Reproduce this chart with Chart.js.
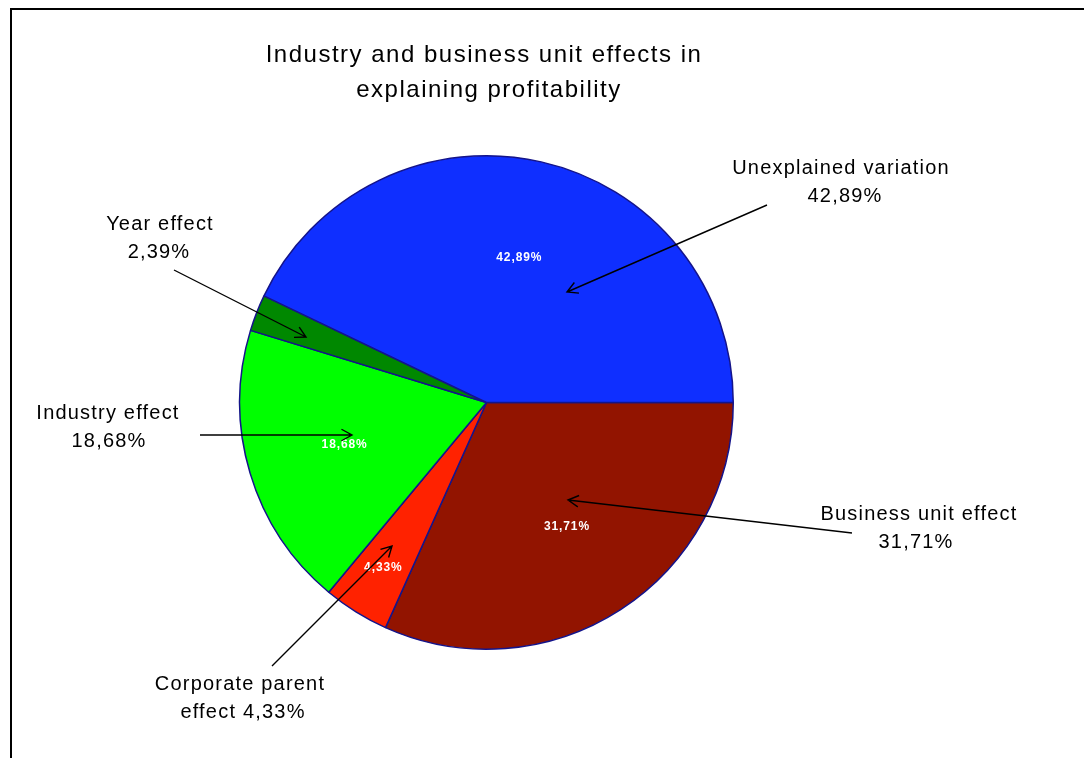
<!DOCTYPE html>
<html>
<head>
<meta charset="utf-8">
<script src="https://cdn.jsdelivr.net/npm/chart.js@4"></script>
<style>
  html, body { margin: 0; padding: 0; overflow: hidden; background: #fff; }
  .frame { position: absolute; left: 10px; top: 8px; width: 1200px; height: 900px; border: 2px solid #000; box-sizing: border-box; }
  .wrap { position: absolute; left: 0; top: 0; width: 1084px; height: 758px; }
</style>
</head>
<body>
<div class="frame"></div>
<div class="wrap"><canvas id="pieChart" width="1084" height="758"></canvas></div>
<script>
// Veriler (saat yönünde, saat 3 yönünden başlayarak)
const categories = ['Business unit effect', 'Corporate parent effect', 'Industry effect', 'Year effect', 'Unexplained variation'];
const shares = [31.71, 4.33, 18.68, 2.39, 42.89];
const sliceColors = ['#921400', '#ff2200', '#00ff00', '#008800', '#0f2fff'];
const insideLabels = ['31,71%', '4,33%', '18,68%', '', '42,89%'];
const outsideLabels = [
    ['Business unit effect', '31,71%'],
    ['Corporate parent', 'effect 4,33%'],
    ['Industry effect', '18,68%'],
    ['Year effect', '2,39%'],
    ['Unexplained variation', '42,89%']
];
const titleLines = ['Industry and business unit effects in', 'explaining profitability'];

// Etiket ve ok yerleşimi (piksel)
const callouts = [
    { tx: [919, 916], ty: 514, from: [852, 533], to: [568, 500], insideR: 0.6 },
    { tx: [240, 243], ty: 684, from: [272, 666], to: [392, 546], insideR: 0.79 },
    { tx: [108, 109], ty: 413, from: [200, 435], to: [352, 435], insideR: 0.6 },
    { tx: [160, 159], ty: 224, from: [174, 270], to: [306, 337], insideR: 0.6 },
    { tx: [841, 845], ty: 168, from: [767, 205], to: [567, 292], insideR: 0.6 }
];

function drawArrow(ctx, x1, y1, x2, y2) {
    const ang = Math.atan2(y2 - y1, x2 - x1);
    const head = 12;
    ctx.beginPath();
    ctx.moveTo(x1, y1);
    ctx.lineTo(x2, y2);
    ctx.moveTo(x2 - head * Math.cos(ang - 0.5), y2 - head * Math.sin(ang - 0.5));
    ctx.lineTo(x2, y2);
    ctx.lineTo(x2 - head * Math.cos(ang + 0.5), y2 - head * Math.sin(ang + 0.5));
    ctx.stroke();
}

const labelPlugin = {
    id: 'labelPlugin',
    afterDraw(chart) {
        const ctx = chart.ctx;
        const arcs = chart.getDatasetMeta(0).data;
        ctx.save();

        // Başlık
        ctx.fillStyle = '#000';
        ctx.textAlign = 'center';
        ctx.textBaseline = 'middle';
        ctx.font = '24px "Liberation Sans", Arial, sans-serif';
        ctx.letterSpacing = '1.5px';
        ctx.fillText(titleLines[0], 484, 55);
        ctx.fillText(titleLines[1], 489, 90);

        // Dilim içi etiketler
        ctx.fillStyle = '#fff';
        ctx.font = 'bold 12px "Liberation Sans", Arial, sans-serif';
        ctx.letterSpacing = '0.9px';
        arcs.forEach((arc, i) => {
            if (!insideLabels[i]) return;
            const p = arc.getProps(['x', 'y', 'startAngle', 'endAngle', 'outerRadius']);
            const mid = (p.startAngle + p.endAngle) / 2;
            const r = p.outerRadius * callouts[i].insideR;
            ctx.fillText(insideLabels[i], p.x + r * Math.cos(mid), p.y + r * Math.sin(mid));
        });

        // Dış etiketler ve oklar
        ctx.fillStyle = '#000';
        ctx.strokeStyle = '#000';
        ctx.lineWidth = 1.4;
        ctx.font = '20px "Liberation Sans", Arial, sans-serif';
        ctx.letterSpacing = '1.2px';
        callouts.forEach((c, i) => {
            ctx.fillText(outsideLabels[i][0], c.tx[0], c.ty);
            ctx.fillText(outsideLabels[i][1], c.tx[1], c.ty + 28);
            drawArrow(ctx, c.from[0], c.from[1], c.to[0], c.to[1]);
        });
        ctx.restore();
    }
};

const pieCtx = document.getElementById('pieChart').getContext('2d');
const pieChart = new Chart(pieCtx, {
    type: 'pie',
    data: {
        labels: categories,
        datasets: [{
            data: shares,
            backgroundColor: sliceColors,
            borderColor: '#14148a',
            borderWidth: 1.5,
            hoverOffset: 0
        }]
    },
    options: {
        responsive: false,
        animation: false,
        rotation: 90,
        layout: {
            padding: { top: 155, bottom: 108, left: 239, right: 350 }
        },
        plugins: {
            legend: { display: false },
            tooltip: { enabled: false },
            title: { display: false }
        }
    },
    plugins: [labelPlugin]
});
</script>
</body>
</html>
